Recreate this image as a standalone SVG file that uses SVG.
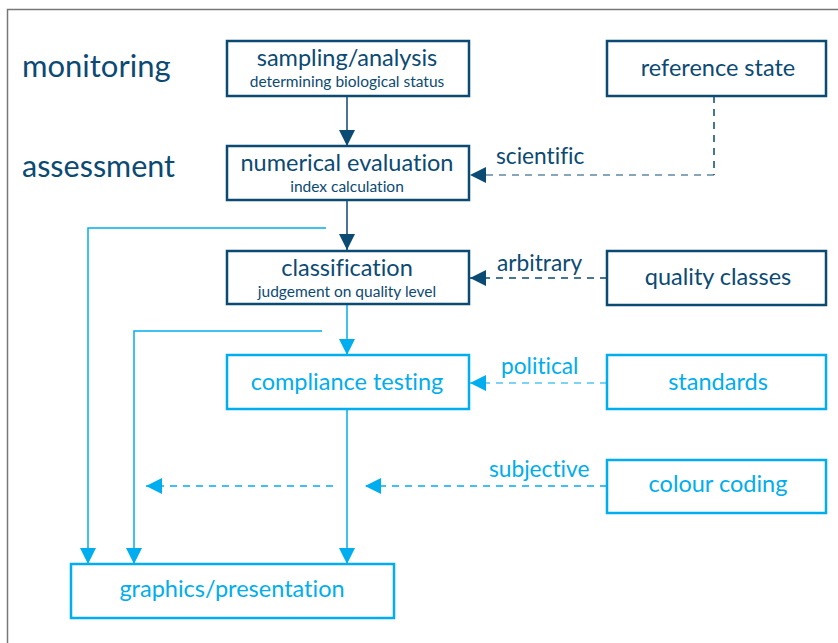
<svg xmlns="http://www.w3.org/2000/svg" width="838" height="643" viewBox="0 0 838 643">
<style>
text{font-family:Lato,"Open Sans","Liberation Sans",sans-serif;text-anchor:middle;font-variant-ligatures:none}
.d rect{fill:#fff;stroke:#0b4a73;stroke-width:2.5}
.l rect{fill:#fff;stroke:#00adee;stroke-width:2.5}
.d text{fill:#0b4a73}
.l text{fill:#00adee}
.t{font-size:23.5px}
.s{font-size:15.5px}
.lab{font-size:22.7px;text-anchor:start}
.cd{stroke:#0b4a73;stroke-width:1.5;fill:none}
.cl{stroke:#00adee;stroke-width:1.5;fill:none}
.dash{stroke-dasharray:7,6}
</style>
<defs>
<marker id="ad" viewBox="0 0 16 16" refX="16" refY="8" markerWidth="16" markerHeight="16" markerUnits="userSpaceOnUse" orient="auto"><path d="M0,0L16,8L0,16z" fill="#0b4a73"/></marker>
<marker id="al" viewBox="0 0 16 16" refX="16" refY="8" markerWidth="16" markerHeight="16" markerUnits="userSpaceOnUse" orient="auto"><path d="M0,0L16,8L0,16z" fill="#00adee"/></marker>
</defs>
<rect x="0" y="0" width="838" height="643" fill="#fff"/>
<path d="M7.5,643V9.5H838" fill="none" stroke="#777" stroke-width="1.5"/>
<text x="22" y="77" style="font-size:31px;text-anchor:start;fill:#0b4a73">monitoring</text>
<text x="22" y="177" style="font-size:30.5px;text-anchor:start;fill:#0b4a73">assessment</text>
<g id="connectors">
<path class="cd" d="M347,96V146" marker-end="url(#ad)"/>
<path class="cd" d="M347,200V250" marker-end="url(#ad)"/>
<path class="cd dash" d="M714,96V175"/>
<path class="cd dash" d="M714,175H470" stroke-opacity="0.65" marker-end="url(#ad)"/>
<path class="cd dash" d="M607,278H470" marker-end="url(#ad)"/>
<path class="cl" d="M347,304V355" marker-end="url(#al)"/>
<path class="cl dash" d="M607,383H470" stroke-opacity="0.7" marker-end="url(#al)"/>
<path class="cl" d="M347,409V564" marker-end="url(#al)"/>
<path class="cl" d="M326,228H88V564" marker-end="url(#al)"/>
<path class="cl" d="M322,331H134V564" marker-end="url(#al)"/>
<path class="cl dash" d="M607,486H365" marker-end="url(#al)"/>
<path class="cl dash" d="M333,486H146" marker-end="url(#al)"/>
<text class="lab" x="496" y="164" style="fill:#0b4a73">scientific</text>
<text class="lab" x="497" y="271" style="fill:#0b4a73">arbitrary</text>
<text class="lab" x="501" y="374" style="fill:#00adee">political</text>
<text class="lab" x="489" y="477" style="fill:#00adee">subjective</text>
</g>
<g id="sampling" class="d"><rect x="227" y="41" width="242" height="55"/><text class="t" x="347" y="66">sampling/analysis</text><text class="s" x="347" y="87">determining biological status</text></g>
<g id="reference" class="d"><rect x="607" y="41" width="219" height="55"/><text class="t" x="718" y="76">reference state</text></g>
<g id="numerical" class="d"><rect x="227" y="146" width="242" height="54"/><text class="t" x="347" y="171">numerical evaluation</text><text class="s" x="347" y="192">index calculation</text></g>
<g id="classification" class="d"><rect x="227" y="251" width="242" height="53"/><text class="t" x="347" y="276">classification</text><text class="s" x="347" y="297">judgement on quality level</text></g>
<g id="quality" class="d"><rect x="607" y="251" width="219" height="54"/><text class="t" x="718" y="285">quality classes</text></g>
<g id="compliance" class="l"><rect x="227" y="355" width="242" height="54"/><text class="t" x="347" y="390">compliance testing</text></g>
<g id="standards" class="l"><rect x="607" y="355" width="219" height="54"/><text class="t" x="718" y="390">standards</text></g>
<g id="colour" class="l"><rect x="607" y="460" width="219" height="53"/><text class="t" x="718" y="492">colour coding</text></g>
<g id="graphics" class="l"><rect x="71" y="564" width="323" height="54"/><text class="t" x="232" y="597">graphics/presentation</text></g>
</svg>
